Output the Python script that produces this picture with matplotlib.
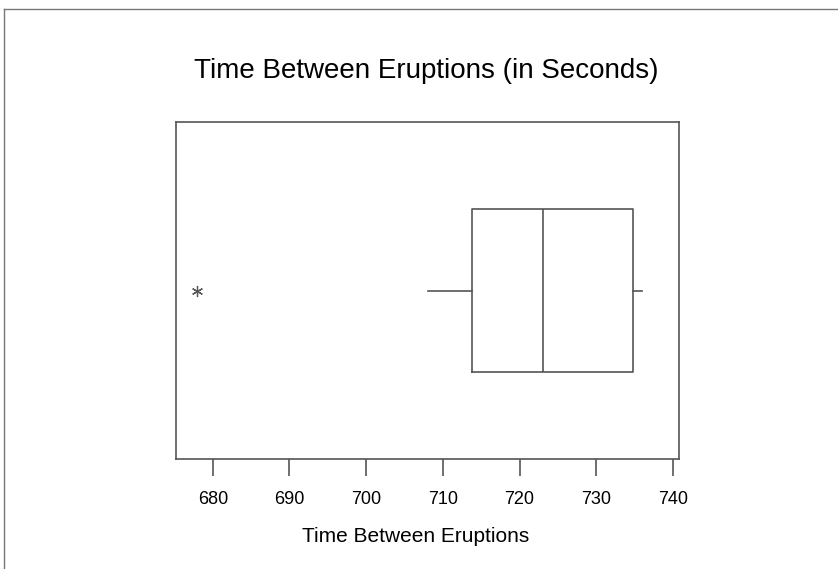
import matplotlib.pyplot as plt
from matplotlib.lines import Line2D

# five-number summary (seconds)
whisker_low = 708
q1 = 713.75
median = 723
q3 = 734.75
whisker_high = 736
outliers = [678]

ticks = [680, 690, 700, 710, 720, 730, 740]

plt.rcParams['font.family'] = ['Liberation Sans', 'DejaVu Sans']
line_col = '#555555'

fig = plt.figure(figsize=(8.38, 5.69), dpi=100)
ax = fig.add_axes([0.21, 0.1933, 0.6003, 0.5923])

stats = [{'med': median, 'q1': q1, 'q3': q3,
          'whislo': whisker_low, 'whishi': whisker_high,
          'fliers': outliers}]
ax.bxp(stats, positions=[0.5], widths=0.485, vert=False, showcaps=False,
       boxprops=dict(color=line_col, linewidth=1.2),
       whiskerprops=dict(color=line_col, linewidth=1.2),
       medianprops=dict(color=line_col, linewidth=1.2),
       flierprops=dict(marker=(6, 2, 0), markersize=8,
                       markeredgecolor=line_col, markeredgewidth=0.9,
                       markerfacecolor='none'))

ax.set_xlim(675.2, 740.8)
ax.set_ylim(0, 1)
ax.set_yticks([])
ax.set_xticks(ticks)
ax.set_xticklabels([str(t) for t in ticks], fontsize=13)
ax.tick_params(axis='x', length=12, width=1.2, color=line_col, pad=11)
for s in ax.spines.values():
    s.set_color(line_col)
    s.set_linewidth(1.2)

fig.text(416 / 838, 1 - 537 / 569, 'Time Between Eruptions',
         fontsize=15, ha='center', va='center')
fig.text(426.5 / 838, 1 - 71 / 569, 'Time Between Eruptions (in Seconds)',
         fontsize=20, ha='center', va='center')

# outer frame (only top and left edges visible in the reference)
fig.add_artist(Line2D([4 / 838, 1], [1 - 9 / 569, 1 - 9 / 569],
                      transform=fig.transFigure, color='#777777', linewidth=1))
fig.add_artist(Line2D([4 / 838, 4 / 838], [0, 1 - 9 / 569],
                      transform=fig.transFigure, color='#777777', linewidth=1))

fig.savefig('out.png', dpi=100)
